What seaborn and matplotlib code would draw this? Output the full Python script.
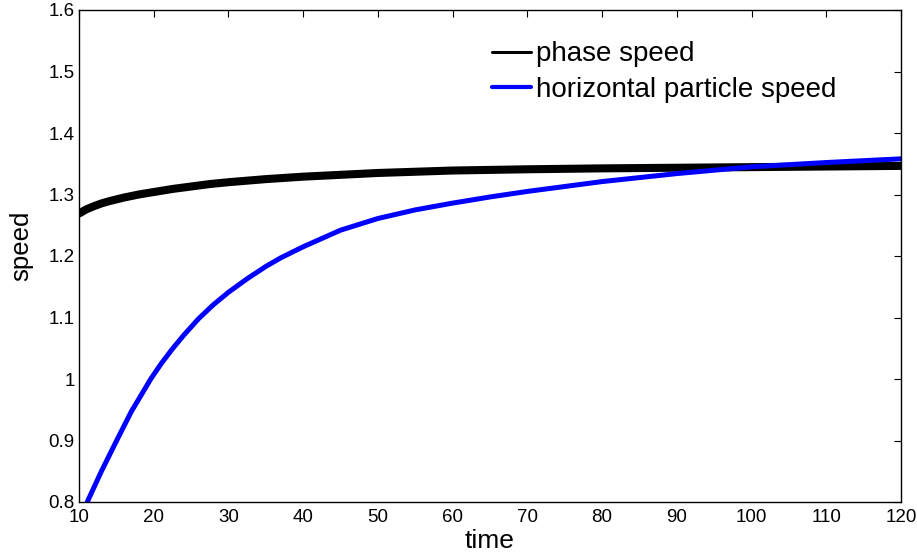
import numpy as np
import pandas as pd
import matplotlib
matplotlib.use("Agg")
import matplotlib.pyplot as plt
import seaborn as sns

# phase speed (black)
t_phase = [10, 11, 12, 13, 14, 15, 16, 18, 20, 22.5, 25, 27.5, 30, 35, 40, 45, 50, 55,
           60, 70, 80, 90, 100, 110, 120]
v_phase = [1.269, 1.276, 1.281, 1.2855, 1.289, 1.292, 1.295, 1.300, 1.304, 1.309,
           1.313, 1.317, 1.320, 1.325, 1.329, 1.332, 1.335, 1.337, 1.339, 1.341,
           1.3425, 1.3435, 1.3445, 1.3455, 1.3465]

# horizontal particle speed (blue)
t_part = [11.1, 13, 15, 17, 19.6, 21, 22.5, 24, 26, 28, 30, 32.5, 35, 37, 40, 45, 50,
          55, 60, 65, 70, 80, 90, 100, 110, 120]
v_part = [0.800, 0.850, 0.899, 0.947, 1.000, 1.025, 1.049, 1.071, 1.098, 1.121,
          1.141, 1.163, 1.183, 1.197, 1.215, 1.242, 1.261, 1.275, 1.286, 1.296,
          1.305, 1.321, 1.334, 1.345, 1.352, 1.358]

xticks = [10, 20, 30, 40, 50, 60, 70, 80, 90, 100, 110, 120]
yticks = [0.8, 0.9, 1.0, 1.1, 1.2, 1.3, 1.4, 1.5, 1.6]
ytick_labels = ["0.8", "0.9", "1", "1.1", "1.2", "1.3", "1.4", "1.5", "1.6"]

sns.set_style("white")
plt.rcParams['font.family'] = ['Liberation Sans', 'DejaVu Sans']
plt.rcParams['text.color'] = 'black'
plt.rcParams['axes.labelcolor'] = 'black'

df_phase = pd.DataFrame({"time": t_phase, "speed": v_phase})
df_part = pd.DataFrame({"time": t_part, "speed": v_part})

fig = plt.figure(figsize=(9.17, 5.53), dpi=100)
ax = fig.add_axes([79/917, 1 - 502/553, (901-79)/917, (502-10)/553])

sns.lineplot(data=df_phase, x="time", y="speed", ax=ax, color="black", linewidth=5.8,
             label="phase speed")
sns.lineplot(data=df_part, x="time", y="speed", ax=ax, color="#0000ff", linewidth=3.6,
             label="horizontal particle speed")

ax.set_xlim(10, 120)
ax.set_ylim(0.8, 1.6)
ax.set_xticks(xticks)
ax.set_xticklabels([str(x) for x in xticks])
ax.set_yticks(yticks)
ax.set_yticklabels(ytick_labels)
ax.tick_params(direction="in", length=5, width=0.8, labelsize=13.5, top=True, right=True,
               colors="black")
ax.tick_params(axis="x", pad=5)
ax.tick_params(axis="y", pad=3)
for s in ax.spines.values():
    s.set_visible(True)
    s.set_color("black")
    s.set_linewidth(1.0)
ax.set_xlabel("time", fontsize=19, color="black")
ax.set_ylabel("speed", fontsize=18.5, color="black")
ax.xaxis.set_label_coords(0.5, -0.055)
ax.yaxis.set_label_coords(-0.056, 0.52)

leg = ax.legend(loc="upper left", bbox_to_anchor=(0.5024, 0.936), frameon=False,
                fontsize=20, handlelength=1.4, handletextpad=0.18, labelspacing=0.35,
                borderaxespad=0, borderpad=0, labelcolor="black")
lw = [2.2, 3.0]
for line, w in zip(leg.get_lines(), lw):
    line.set_linewidth(w)

fig.savefig("out.png", dpi=100)
